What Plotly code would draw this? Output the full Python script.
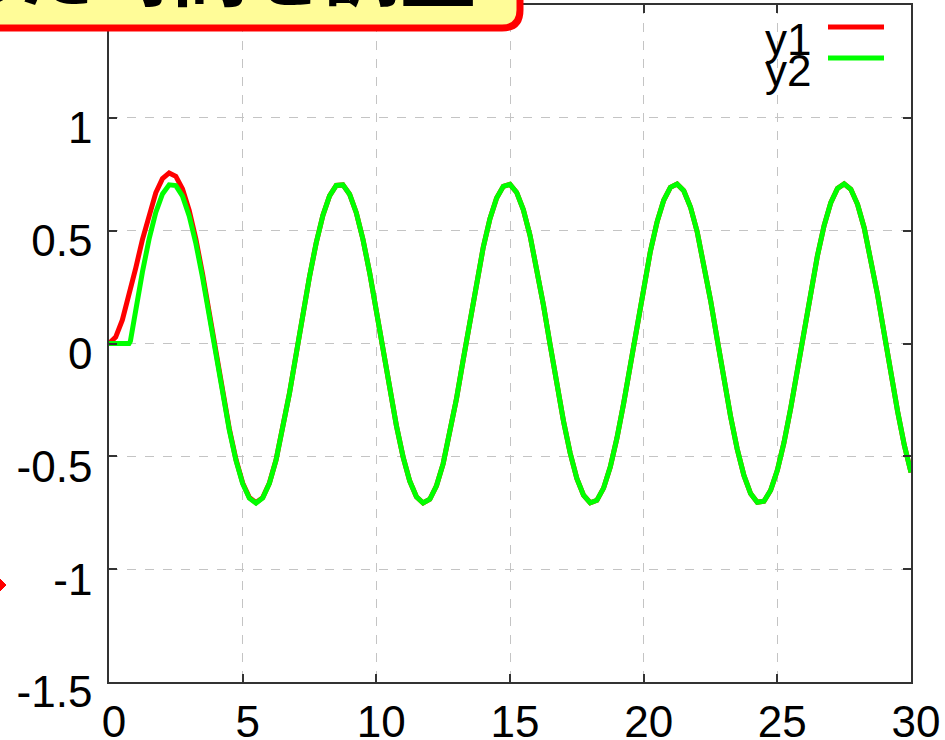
import plotly.graph_objects as go

# ---- data ----
t = [0, 0.25, 0.5, 0.75, 0.8, 1.0, 1.25, 1.5, 1.75, 2.0, 2.25, 2.5, 2.75,
     3.0, 3.25, 3.5, 3.75, 4.0, 4.25, 4.5, 4.75, 5.0, 5.25, 5.5, 5.75,
     6.0, 6.25, 6.5, 6.75, 7.0, 7.25, 7.5, 7.75, 8.0, 8.25, 8.5, 8.75,
     9.0, 9.25, 9.5, 9.75, 10.0, 10.25, 10.5, 10.75, 11.0, 11.25, 11.5, 11.75,
     12.0, 12.25, 12.5, 12.75, 13.0, 13.25, 13.5, 13.75, 14.0, 14.25, 14.5, 14.75,
     15.0, 15.25, 15.5, 15.75, 16.0, 16.25, 16.5, 16.75, 17.0, 17.25, 17.5, 17.75,
     18.0, 18.25, 18.5, 18.75, 19.0, 19.25, 19.5, 19.75, 20.0, 20.25, 20.5, 20.75,
     21.0, 21.25, 21.5, 21.75, 22.0, 22.25, 22.5, 22.75, 23.0, 23.25, 23.5, 23.75,
     24.0, 24.25, 24.5, 24.75, 25.0, 25.25, 25.5, 25.75, 26.0, 26.25, 26.5, 26.75,
     27.0, 27.25, 27.5, 27.75, 28.0, 28.25, 28.5, 28.75, 29.0, 29.25, 29.5, 29.75,
     30.0]

y1 = [0.0, 0.0286, 0.1042, 0.2112, 0.2350, 0.3345, 0.4602, 0.5750, 0.6679, 0.7305, 0.7558, 0.7408, 0.6849,
      0.5902, 0.4625, 0.3079, 0.1363, -0.0424, -0.2173, -0.3777, -0.5142, -0.6179, -0.6829, -0.7051, -0.6831,
      -0.6184, -0.5153, -0.3800, -0.2209, -0.0480, 0.1280, 0.2960, 0.4455, 0.5674, 0.6542, 0.7002, 0.7028,
      0.6616, 0.5794, 0.4610, 0.3140, 0.1476, -0.0281, -0.2021, -0.3634, -0.5022, -0.6097, -0.6793, -0.7068,
      -0.6902, -0.6307, -0.5322, -0.4003, -0.2437, -0.0719, 0.1044, 0.2742, 0.4269, 0.5532, 0.6447, 0.6967,
      0.7050, 0.6695, 0.5926, 0.4785, 0.3350, 0.1704, -0.0047, -0.1795, -0.3431, -0.4854, -0.5976, -0.6725,
      -0.7056, -0.6950, -0.6409, -0.5473, -0.4194, -0.2656, -0.0952, 0.0811, 0.2524, 0.4080, 0.5380, 0.6348,
      0.6922, 0.7064, 0.6768, 0.6051, 0.4957, 0.3554, 0.1931, 0.0188, -0.1566, -0.3224, -0.4680, -0.5846,
      -0.6650, -0.7038, -0.6988, -0.6505, -0.5619, -0.4381, -0.2872, -0.1184, 0.0579, 0.2304, 0.3886, 0.5226,
      0.6243, 0.6870, 0.7071, 0.6831, 0.6167, 0.5120, 0.3754, 0.2155, 0.0421, -0.1339, -0.3015, -0.4503,
      -0.5712]

y2 = [0.0, 0.0, 0.0, 0.0, 0.0103, 0.1506, 0.3169, 0.4634, 0.5810, 0.6628, 0.7031, 0.6998, 0.6529,
      0.5653, 0.4431, 0.2928, 0.1245, -0.0516, -0.2244, -0.3833, -0.5185, -0.6213, -0.6855, -0.7071, -0.6847,
      -0.6196, -0.5163, -0.3808, -0.2215, -0.0485, 0.1276, 0.2957, 0.4453, 0.5674, 0.6542, 0.7002, 0.7028,
      0.6616, 0.5794, 0.4610, 0.3140, 0.1476, -0.0281, -0.2021, -0.3634, -0.5022, -0.6097, -0.6793, -0.7068,
      -0.6902, -0.6307, -0.5322, -0.4003, -0.2437, -0.0719, 0.1044, 0.2742, 0.4269, 0.5532, 0.6447, 0.6967,
      0.7050, 0.6695, 0.5926, 0.4785, 0.3350, 0.1704, -0.0047, -0.1795, -0.3431, -0.4854, -0.5976, -0.6725,
      -0.7056, -0.6950, -0.6409, -0.5473, -0.4194, -0.2656, -0.0952, 0.0811, 0.2524, 0.4080, 0.5380, 0.6348,
      0.6922, 0.7064, 0.6768, 0.6051, 0.4957, 0.3554, 0.1931, 0.0188, -0.1566, -0.3224, -0.4680, -0.5846,
      -0.6650, -0.7038, -0.6988, -0.6505, -0.5619, -0.4381, -0.2872, -0.1184, 0.0579, 0.2304, 0.3886, 0.5226,
      0.6243, 0.6870, 0.7071, 0.6831, 0.6167, 0.5120, 0.3754, 0.2155, 0.0421, -0.1339, -0.3015, -0.4503,
      -0.5712]

series_names = ["y1", "y2"]
series_colors = ["#ff0000", "#00ff00"]
x_ticks = [0, 5, 10, 15, 20, 25, 30]
y_ticks = [-1.5, -1, -0.5, 0, 0.5, 1, 1.5]
y_tick_text = ["-1.5", "-1", "-0.5", "0", "0.5", "1", "1.5"]
title_text = "むだ時間を調整"

# ---- layout geometry (pixels) ----
W, H = 945, 740
L, R, T, B = 109, 34, 5, 58
PW, PH = W - L - R, H - T - B


def px(x):
    return (x - L) / PW


def py(y):
    return (H - B - y) / PH


FONT = "Liberation Sans, Arial, sans-serif"
TICK_SIZE = 44

fig = go.Figure()
for name, ys, col in zip(series_names, [y1, y2], series_colors):
    fig.add_trace(go.Scatter(x=t, y=ys, mode="lines", name=name,
                             line=dict(color=col, width=5)))

axis_common = dict(showline=True, linecolor="#333333", linewidth=1.5, mirror="ticks",
                   ticks="inside", ticklen=8, tickcolor="#333333", tickwidth=1.5,
                   showgrid=True, gridcolor="#c4c4c4", griddash="dash", gridwidth=1,
                   zeroline=False, tickfont=dict(family=FONT, size=TICK_SIZE, color="#000000"))

fig.update_xaxes(range=[0, 30], tickvals=x_ticks, ticklabelstandoff=0,
                 ticklabelshift=5, **axis_common)
fig.update_yaxes(range=[-1.5, 1.5], tickvals=y_ticks, ticktext=y_tick_text,
                 ticklabelstandoff=6, ticklabelshift=10, **axis_common)

shapes = []
# title box (yellow with red border, rounded bottom-right corner)
x0, x1, yt, yb, r = -20, 520, -80, 28, 18
path = (f"M {px(x0)},{py(yt)} L {px(x1)},{py(yt)} L {px(x1)},{py(yb - r)} "
        f"Q {px(x1)},{py(yb)} {px(x1 - r)},{py(yb)} L {px(x0)},{py(yb)} Z")
shapes.append(dict(type="path", path=path, xref="paper", yref="paper",
                   fillcolor="#fffc98", line=dict(color="#ff0000", width=7), layer="above"))
# small red arrow tip at left edge
tri = f"M {px(-2)},{py(577)} L {px(6)},{py(585)} L {px(-2)},{py(593)} Z"
shapes.append(dict(type="path", path=tri, xref="paper", yref="paper",
                   fillcolor="#ff0000", line=dict(color="#ff0000", width=1), layer="above"))
# legend sample lines
for yy, col in [(27, series_colors[0]), (58, series_colors[1])]:
    shapes.append(dict(type="line", xref="paper", yref="paper",
                       x0=px(828), x1=px(884), y0=py(yy), y1=py(yy),
                       line=dict(color=col, width=5), layer="above"))

annotations = [
    dict(text="y1", xref="paper", yref="paper", x=px(813), y=py(40), xanchor="right",
         yanchor="middle", showarrow=False, font=dict(family=FONT, size=44, color="#000")),
    dict(text="y2", xref="paper", yref="paper", x=px(813), y=py(70), xanchor="right",
         yanchor="middle", showarrow=False, font=dict(family=FONT, size=44, color="#000")),
    dict(text="<b>" + title_text + "</b>", xref="paper", yref="paper", x=px(210), y=py(24),
         xanchor="center", yanchor="bottom", showarrow=False,
         font=dict(family="Noto Sans CJK JP", size=76, color="#000")),
]

fig.update_layout(width=W, height=H, margin=dict(l=L, r=R, t=T, b=B, autoexpand=False),
                  paper_bgcolor="#ffffff", plot_bgcolor="#ffffff", showlegend=False,
                  shapes=shapes, annotations=annotations)

fig.write_html("out.html", config={"displayModeBar": False},
               post_script="document.body.style.margin='0px';document.body.style.overflow='hidden';")
